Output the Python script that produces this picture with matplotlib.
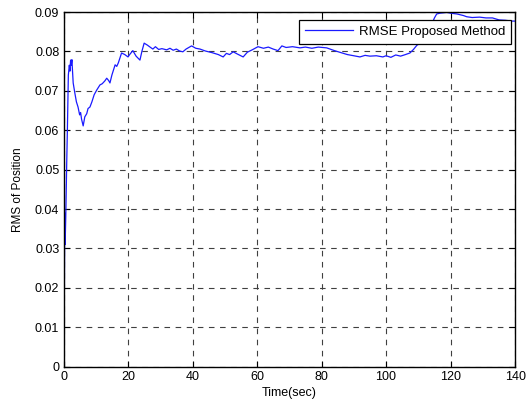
import matplotlib
matplotlib.use("Agg")
import matplotlib.pyplot as plt

time_sec = [0.0, 0.2, 0.3, 0.4, 0.5, 0.7, 1.0, 1.2, 1.5, 1.8, 2.0, 2.2, 2.4, 2.6, 3.0, 3.5,
            4.0, 4.5, 5.0, 5.3, 5.6, 6.1, 6.6, 7.2, 7.6, 8.2, 8.8, 9.5, 10.3, 11.3, 12.0,
            12.8, 13.4, 14.0, 14.4, 15.0, 16.0, 16.5, 17.0, 18.0, 19.0, 20.0, 20.5, 21.5,
            22.5, 23.7, 24.3, 25.0, 26.0, 27.0, 27.7, 28.5, 29.5, 30.5, 32.0, 33.0, 34.0,
            35.0, 36.0, 37.0, 38.0, 39.7, 41.0, 42.3, 44.0, 46.0, 48.0, 49.5, 50.5, 51.5,
            52.6, 54.0, 55.7, 57.0, 58.5, 60.3, 62.0, 63.5, 65.0, 66.5, 67.7, 69.0, 71.0,
            73.3, 75.0, 77.0, 79.0, 81.6, 84.0, 86.0, 88.0, 90.0, 91.9, 93.5, 95.0, 97.0,
            99.0, 100.0, 101.5, 103.0, 104.5, 106.0, 107.4, 108.5, 109.6, 110.5, 112.0,
            113.5, 115.0, 115.7, 116.7, 118.8, 120.0, 122.0, 124.0, 125.0, 126.7, 129.0,
            131.0, 133.0, 135.0, 137.0, 139.0, 140.0]
rmse = [0.0, 0.005, 0.025, 0.039, 0.031, 0.038, 0.052, 0.060, 0.074, 0.0765, 0.075, 0.0778,
        0.0765, 0.0779, 0.072, 0.0695, 0.0672, 0.0659, 0.0639, 0.0645, 0.0628, 0.0611,
        0.0634, 0.0642, 0.0655, 0.0659, 0.0672, 0.069, 0.0702, 0.0715, 0.0718, 0.0725,
        0.0732, 0.0726, 0.072, 0.074, 0.0766, 0.0762, 0.0771, 0.0796, 0.0792, 0.0786,
        0.0792, 0.0802, 0.0788, 0.0778, 0.080, 0.0821, 0.0816, 0.081, 0.0806, 0.0812,
        0.0805, 0.0807, 0.0804, 0.0808, 0.0803, 0.0806, 0.0801, 0.0799, 0.0806, 0.0814,
        0.0808, 0.0806, 0.0801, 0.0797, 0.0792, 0.0786, 0.0795, 0.0792, 0.0799, 0.0793,
        0.0786, 0.0798, 0.0804, 0.0812, 0.0808, 0.0811, 0.0806, 0.0802, 0.0814, 0.081,
        0.0812, 0.0809, 0.0811, 0.0808, 0.0811, 0.0809, 0.0802, 0.0797, 0.0792, 0.0789,
        0.0786, 0.079, 0.0788, 0.0789, 0.0786, 0.0789, 0.0785, 0.0791, 0.0788, 0.0792,
        0.0796, 0.0805, 0.0816, 0.082, 0.0835, 0.0855, 0.0885, 0.0895, 0.0897, 0.0899,
        0.0897, 0.0895, 0.0891, 0.0888, 0.0886, 0.0887, 0.0885, 0.0885, 0.088, 0.0879,
        0.0877, 0.0877]

x_ticks = [0, 20, 40, 60, 80, 100, 120, 140]
y_ticks = [0, 0.01, 0.02, 0.03, 0.04, 0.05, 0.06, 0.07, 0.08, 0.09]
y_tick_labels = ["0", "0.01", "0.02", "0.03", "0.04", "0.05", "0.06", "0.07", "0.08", "0.09"]

plt.rcParams['font.family'] = ['Liberation Sans', 'DejaVu Sans']
fig = plt.figure(figsize=(5.31, 4.07), dpi=100)
ax = fig.add_axes([0.1196, 0.099, 0.8504, 0.8715])
ax.plot(time_sec, rmse, color='#1a1aff', linewidth=0.9, label='RMSE Proposed Method')
ax.set_xlim(0, 140)
ax.set_ylim(0, 0.09)
ax.set_xticks(x_ticks)
ax.set_yticks(y_ticks)
ax.set_yticklabels(y_tick_labels)
ax.tick_params(direction='in', length=4, width=0.8, top=True, right=True, labelsize=9, pad=3)
ax.grid(True, color='0.25', linestyle=(0, (5, 5)), linewidth=0.8)
for s in ax.spines.values():
    s.set_linewidth(1.0)
    s.set_color('black')
ax.set_xlabel('Time(sec)', fontsize=9, labelpad=3)
ax.set_ylabel('RMS of Position', fontsize=8.5, labelpad=8)
leg = ax.legend(loc='upper right', fontsize=9.5, fancybox=False, framealpha=1,
                edgecolor='black', handlelength=3.7, handletextpad=0.4, borderpad=0.45,
                borderaxespad=0, bbox_to_anchor=(0.991, 0.978))
leg.get_frame().set_linewidth(0.9)
fig.savefig('out.png', dpi=100)
